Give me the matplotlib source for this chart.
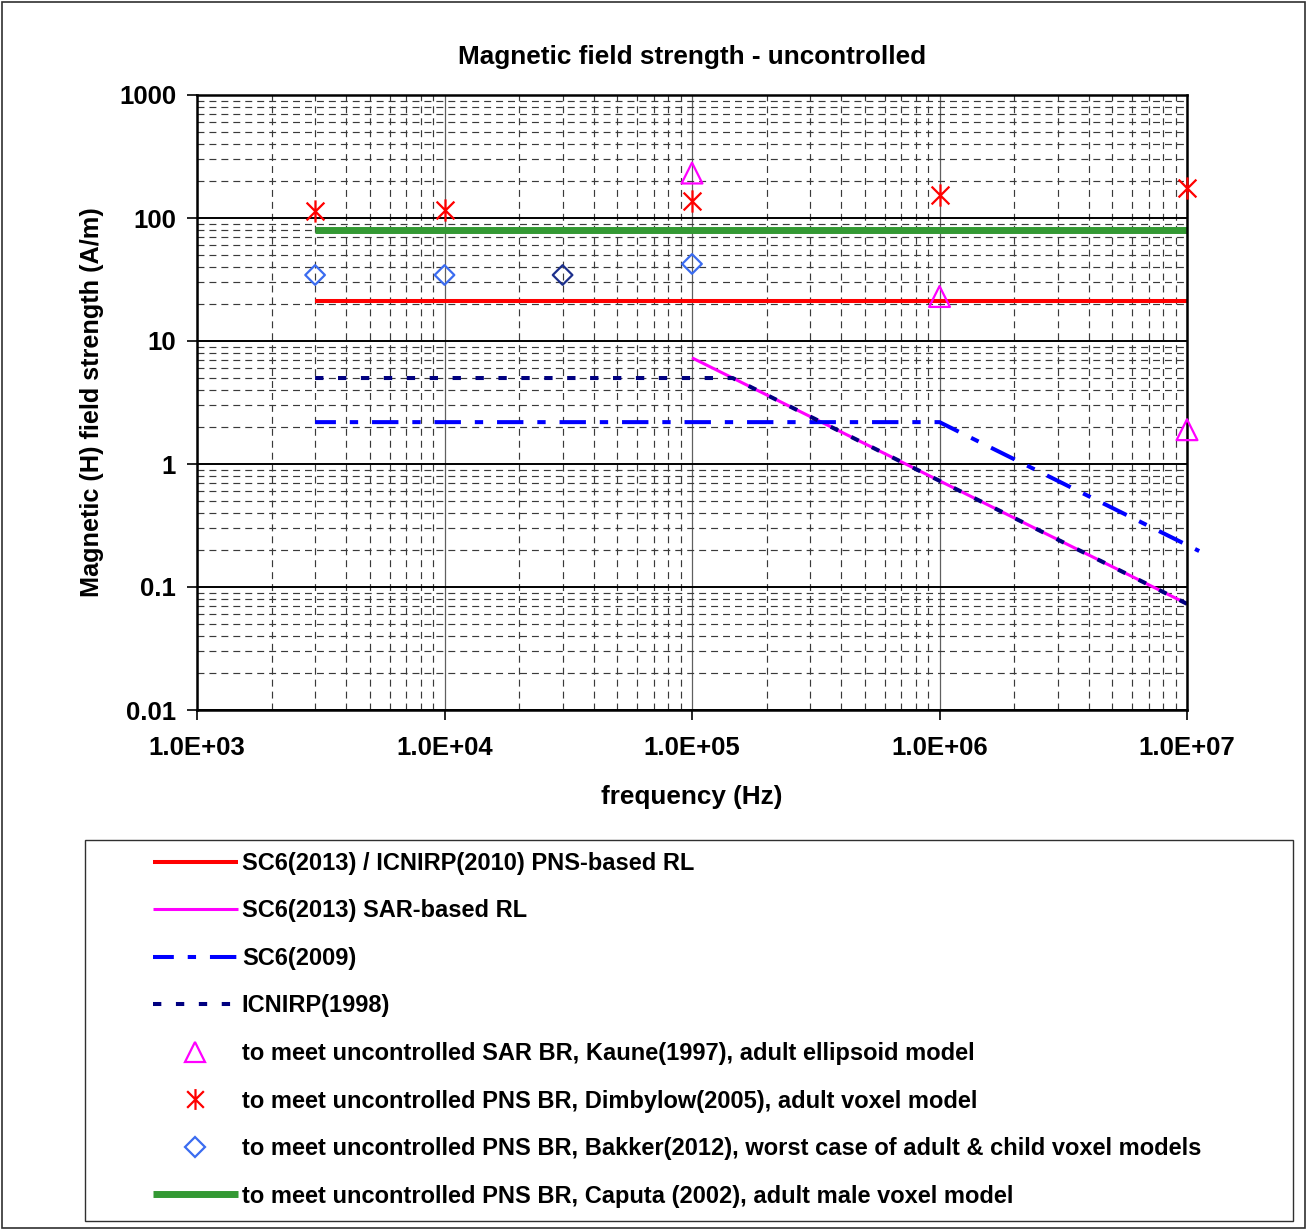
import numpy as np
import matplotlib.pyplot as plt
from matplotlib.path import Path
from matplotlib.patches import Rectangle
from matplotlib.lines import Line2D
from matplotlib.ticker import LogLocator, FixedLocator, FixedFormatter, NullFormatter

plt.rcParams['font.family'] = ['Liberation Sans', 'DejaVu Sans']
plt.rcParams['font.weight'] = 'bold'
plt.rcParams['lines.scale_dashes'] = False

# reference levels (lines)
pns_freq = [3e3, 1e7]
pns_h = [21, 21]
sar_freq = [1e5, 1e7]
sar_h = [7.3, 0.073]
sc6_2009_freq = [3e3, 1e6, 1.12e7]
sc6_2009_h = [2.19, 2.19, 0.196]
icnirp98_freq = [3e3, 1.46e5, 1.05e7]
icnirp98_h = [5, 5, 0.0695]
caputa_freq = [3e3, 1e7]
caputa_h = [80, 80]

# dosimetry points
kaune_freq = [1e5, 1e6, 1e7]
kaune_h = [232, 23, 1.9]
dimbylow_freq = [3e3, 1e4, 1e5, 1e6, 1e7]
dimbylow_h = [114, 117, 137, 154, 175]
bakker_freq = [3e3, 1e4, 3e4, 1e5]
bakker_h = [34.4, 34.4, 34.4, 42.3]
bakker_edge = ['#3b6cf0', '#3b6cf0', '#1c2f8c', '#3b6cf0']

x_ticks = [1e3, 1e4, 1e5, 1e6, 1e7]
x_labels = ['1.0E+03', '1.0E+04', '1.0E+05', '1.0E+06', '1.0E+07']
y_ticks = [0.01, 0.1, 1, 10, 100, 1000]
y_labels = ['0.01', '0.1', '1', '10', '100', '1000']

labels = [
    'SC6(2013) / ICNIRP(2010) PNS-based RL',
    'SC6(2013) SAR-based RL',
    'SC6(2009)',
    'ICNIRP(1998)',
    'to meet uncontrolled SAR BR, Kaune(1997), adult ellipsoid model',
    'to meet uncontrolled PNS BR, Dimbylow(2005), adult voxel model',
    'to meet uncontrolled PNS BR, Bakker(2012), worst case of adult & child voxel models',
    'to meet uncontrolled PNS BR, Caputa (2002), adult male voxel model',
]

# Excel-style star: an X with a vertical bar through it
star = Path([(-1, -1), (1, 1), (-1, 1), (1, -1), (0, -1.25), (0, 1.25)],
            [Path.MOVETO, Path.LINETO, Path.MOVETO, Path.LINETO, Path.MOVETO, Path.LINETO])

W, H = 1307, 1230
fig = plt.figure(figsize=(W / 100, H / 100), dpi=100)
fig.patches.append(Rectangle((2 / W, 2 / H), 1 - 4 / W, 1 - 4 / H, transform=fig.transFigure,
                             fill=False, edgecolor='#303030', lw=1.2))

ax = fig.add_axes([197 / W, 1 - 710 / H, 990 / W, 615 / H])
ax.set_xscale('log')
ax.set_yscale('log')
ax.set_xlim(1e3, 1e7)
ax.set_ylim(0.01, 1000)

ax.xaxis.set_major_locator(FixedLocator(x_ticks))
ax.xaxis.set_major_formatter(FixedFormatter(x_labels))
ax.yaxis.set_major_locator(FixedLocator(y_ticks))
ax.yaxis.set_major_formatter(FixedFormatter(y_labels))
ax.xaxis.set_minor_locator(LogLocator(base=10, subs=np.arange(2, 10), numticks=20))
ax.yaxis.set_minor_locator(LogLocator(base=10, subs=np.arange(2, 10), numticks=20))
ax.xaxis.set_minor_formatter(NullFormatter())
ax.yaxis.set_minor_formatter(NullFormatter())

ax.grid(which='minor', axis='both', color='#3a3a3a', lw=0.85, ls=(0, (5, 3.6)))
ax.grid(which='major', axis='y', color='black', lw=1.4)
ax.grid(which='major', axis='x', color='#606060', lw=0.9)
ax.set_axisbelow(True)

ax.tick_params(which='major', direction='out', length=7, width=1.2, labelsize=18.5, color='black')
ax.tick_params(axis='y', pad=8)
ax.tick_params(axis='x', pad=12)
ax.tick_params(which='minor', length=0)
for sp in ax.spines.values():
    sp.set_linewidth(1.8)
    sp.set_color('black')

l_pns, = ax.plot(pns_freq, pns_h, color='#ff0000', lw=2.9, solid_capstyle='butt')
l_sar, = ax.plot(sar_freq, sar_h, color='#ff00ff', lw=2.2, solid_capstyle='butt')
l_sc6, = ax.plot(sc6_2009_freq, sc6_2009_h, color='#0000ff', lw=2.9,
                 ls=(4, (19, 10, 6, 10)), dash_capstyle='butt', clip_on=False)
l_icn, = ax.plot(icnirp98_freq, icnirp98_h, color='#000080', lw=2.9,
                 ls=(0, (6, 10.5)), dash_capstyle='butt', clip_on=False)
l_cap, = ax.plot(caputa_freq, caputa_h, color='#339933', lw=5, solid_capstyle='butt')

m_kaune = ax.scatter(kaune_freq, kaune_h, marker='^', s=15 ** 2, facecolors='none',
                     edgecolors='#ff00ff', linewidths=1.6, zorder=5, clip_on=False)
m_dimb = ax.scatter(dimbylow_freq, dimbylow_h, marker=star, s=16 ** 2, color='#ff0000',
                    linewidths=1.6, zorder=5, clip_on=False)
m_bakk = ax.scatter(bakker_freq, bakker_h, marker='D', s=10 ** 2, facecolors='none',
                    edgecolors=bakker_edge, linewidths=1.6, zorder=5, clip_on=False)

ax.set_title('Magnetic field strength - uncontrolled', fontsize=18.8, fontweight='bold', pad=22)
ax.set_xlabel('frequency (Hz)', fontsize=18.8, fontweight='bold', labelpad=18)
ax.set_ylabel('Magnetic (H) field strength (A/m)', fontsize=18.2, fontweight='bold', labelpad=11)

# legend box below the plot
fig.patches.append(Rectangle((85 / W, 1 - 1221 / H), 1208 / W, 381 / H, transform=fig.transFigure,
                             fill=False, edgecolor='#303030', lw=1))
h_kaune = Line2D([], [], ls='none', marker='^', ms=15, mfc='none', mec='#ff00ff', mew=1.6)
h_dimb = Line2D([], [], ls='none', marker=star, ms=15, color='#ff0000', mew=1.6)
h_bakk = Line2D([], [], ls='none', marker='D', ms=10, mfc='none', mec='#3b6cf0', mew=1.6)
handles = [l_pns, l_sar, l_sc6, l_icn, h_kaune, h_dimb, h_bakk, l_cap]
fig.legend(handles, labels, loc='upper left', bbox_to_anchor=(141 / W, 1 - 840 / H),
           bbox_transform=fig.transFigure, frameon=False, fontsize=17,
           handlelength=3.6, handletextpad=0.17, labelspacing=1.04, borderpad=0)

fig.savefig('out.png', dpi=100)
